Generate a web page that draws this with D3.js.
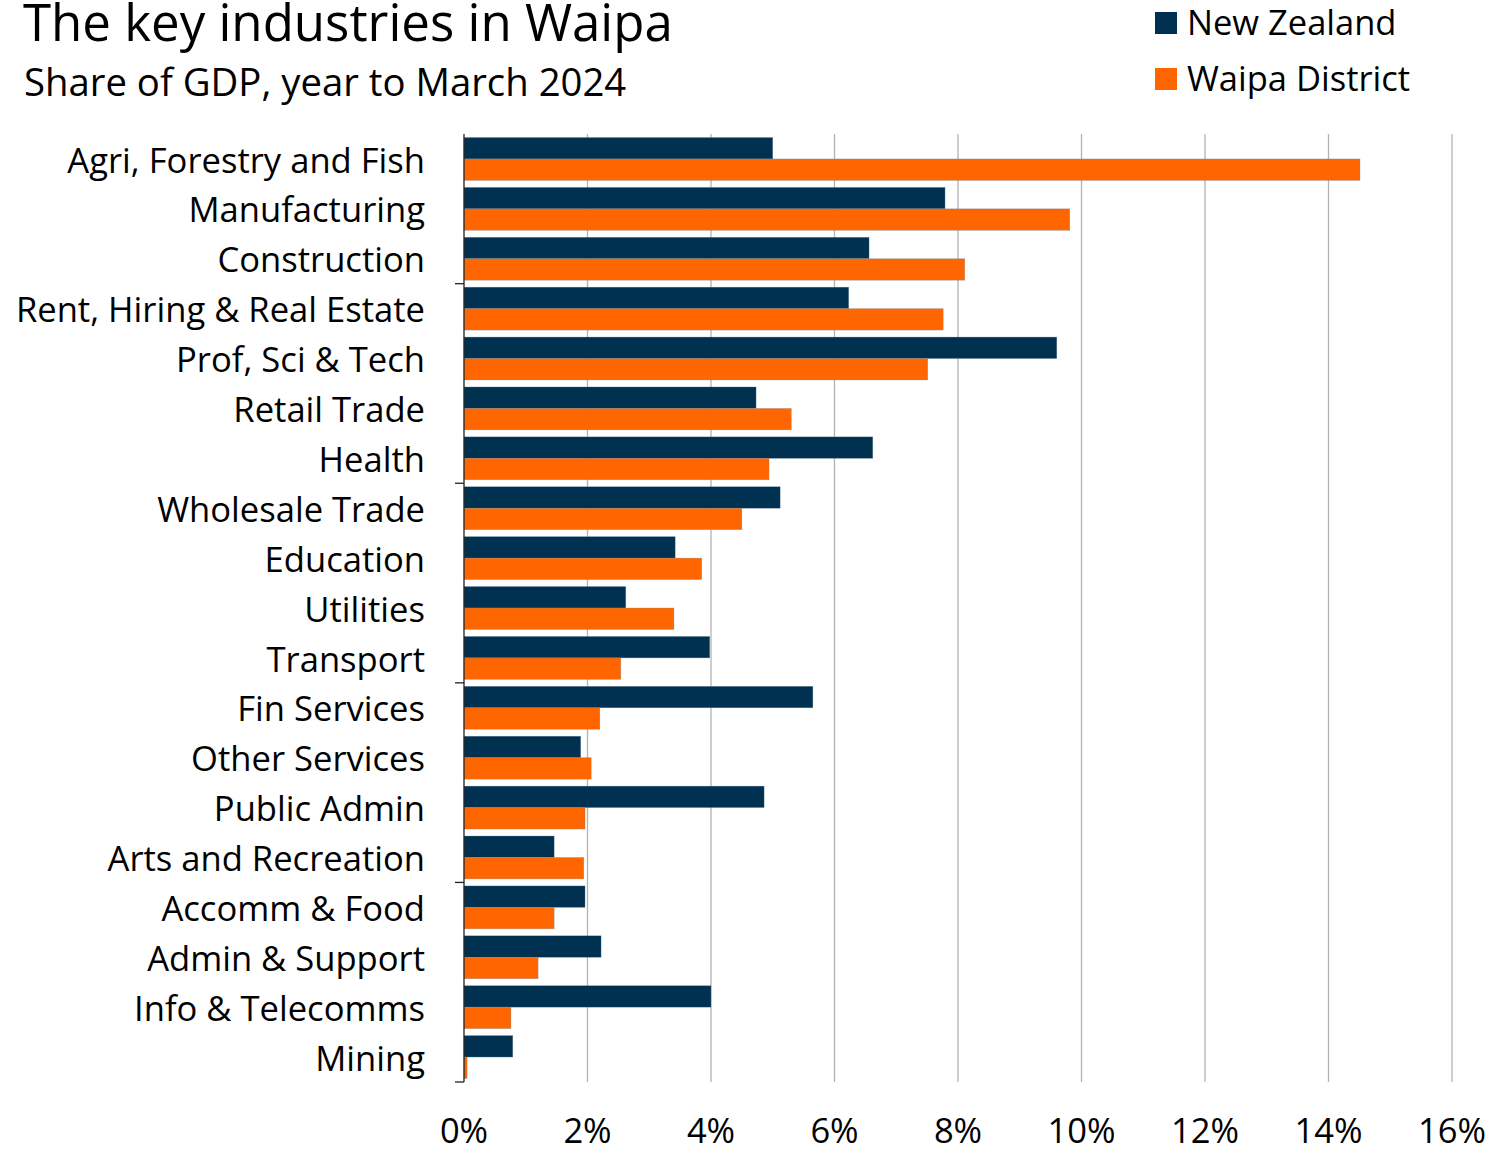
<!DOCTYPE html>
<html>
<head>
<meta charset="utf-8">
<script src="https://cdn.jsdelivr.net/npm/d3@7"></script>
<style>
  body { margin: 0; background: #fff; }
  svg { display: block; font-family: "Open Sans", "Noto Sans", sans-serif; }
</style>
</head>
<body>
<svg id="chart" width="1496" height="1153"></svg>
<script>
const categories = ["Agri, Forestry and Fish","Manufacturing","Construction","Rent, Hiring & Real Estate","Prof, Sci & Tech","Retail Trade","Health","Wholesale Trade","Education","Utilities","Transport","Fin Services","Other Services","Public Admin","Arts and Recreation","Accomm & Food","Admin & Support","Info & Telecomms","Mining"];
const nzValues = [5.00,7.79,6.56,6.23,9.60,4.73,6.62,5.12,3.42,2.62,3.98,5.65,1.89,4.86,1.46,1.96,2.22,4.00,0.79];
const waipaValues = [14.51,9.81,8.11,7.76,7.51,5.30,4.94,4.50,3.85,3.40,2.54,2.20,2.06,1.96,1.94,1.46,1.20,0.76,0.05];
const seriesNames = ["New Zealand","Waipa District"];
const xTicks = [0,2,4,6,8,10,12,14,16];

const colors = {"New Zealand":"#003150","Waipa District":"#ff6600"};
const svg = d3.select("#chart");
const margin = {left: 464, right: 44, top: 134, bottom: 71};
const W = 1496, H = 1153;

const x = d3.scaleLinear().domain([0,16]).range([margin.left, W - margin.right]);
const y = d3.scaleBand().domain(categories).range([margin.top, H - margin.bottom]).paddingInner(0.14).paddingOuter(0.07);
const ySub = d3.scaleBand().domain(seriesNames).range([0, y.bandwidth()]);

// gridlines
svg.append("g").selectAll("line").data(xTicks.filter(d => d > 0)).join("line")
  .attr("x1", d => x(d)).attr("x2", d => x(d))
  .attr("y1", margin.top).attr("y2", H - margin.bottom)
  .attr("stroke", "#b3b3b3").attr("stroke-width", 1.3);

const data = categories.map((c,i) => ({cat: c, vals: [
  {s: seriesNames[0], v: nzValues[i]}, {s: seriesNames[1], v: waipaValues[i]}]}));

const g = svg.append("g");
g.selectAll("g").data(data).join("g")
  .attr("transform", d => `translate(0,${y(d.cat)})`)
  .selectAll("rect").data(d => d.vals).join("rect")
  .attr("x", x(0)).attr("y", d => ySub(d.s))
  .attr("width", d => x(d.v) - x(0)).attr("height", ySub.bandwidth())
  .attr("fill", d => colors[d.s])
  .attr("stroke", "#6f8aa0").attr("stroke-width", 0.5).attr("stroke-opacity", 0.6);

// y axis line
svg.append("line").attr("x1", x(0)).attr("x2", x(0))
  .attr("y1", margin.top).attr("y2", H - margin.bottom)
  .attr("stroke", "#222").attr("stroke-width", 1.3);

// y ticks every 4 categories
const step = (H - margin.bottom - margin.top) / categories.length;
const tickIdx = [3,7,11,15,19];
svg.append("g").selectAll("line").data(tickIdx).join("line")
  .attr("x1", x(0) - 9).attr("x2", x(0))
  .attr("y1", d => margin.top + d*step).attr("y2", d => margin.top + d*step)
  .attr("stroke", "#222").attr("stroke-width", 1.3);

// category labels
svg.append("g").selectAll("text").data(categories).join("text")
  .attr("x", 425).attr("y", d => y(d) + y.bandwidth()/2 + 1.5)
  .attr("dy", "0.35em").attr("text-anchor", "end")
  .attr("font-size", 34.6).attr("fill", "#000").text(d => d);

// x tick labels
svg.append("g").selectAll("text").data(xTicks).join("text")
  .attr("x", d => x(d)).attr("y", 1143)
  .attr("text-anchor", "middle").attr("font-size", 34.5).attr("fill", "#000")
  .text(d => d + "%");

// title
svg.append("text").attr("x", 23).attr("y", 41).attr("font-size", 51).attr("fill", "#000")
  .text("The key industries in Waipa");
svg.append("text").attr("x", 24).attr("y", 96).attr("font-size", 38.3).attr("fill", "#000")
  .text("Share of GDP, year to March 2024");

// legend
const leg = svg.append("g").selectAll("g").data(seriesNames).join("g")
  .attr("transform", (d,i) => `translate(1155,${12 + i*56})`);
leg.append("rect").attr("width", 22).attr("height", 22).attr("fill", d => colors[d]);
leg.append("text").attr("x", 32).attr("y", 11).attr("dy", "0.35em")
  .attr("font-size", 34.5).attr("fill", "#000").text(d => d);
</script>
</body>
</html>
